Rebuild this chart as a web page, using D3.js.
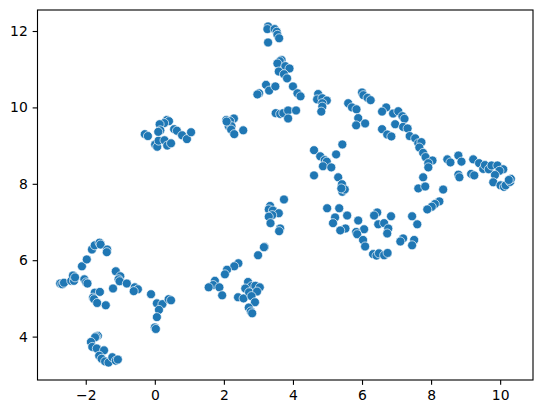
<!DOCTYPE html>
<html><head><meta charset="utf-8">
<script src="https://cdn.jsdelivr.net/npm/d3@7"></script>
<style>html,body{margin:0;padding:0;background:#fff}svg{display:block}
text{font-family:"DejaVu Sans";}</style></head><body>
<div id="c"></div>
<script>
const xTicks=[-2,0,2,4,6,8,10];
const yTicks=[4,6,8,10,12];
const xValues=[-2.74,-2.68,-2.63,-2.42,-2.34,-2.37,-2.31,-2.11,-1.97,-1.82,-1.74,-1.60,-1.57,-1.38,-1.39,-2.04,-1.99,-1.95,-1.74,-1.59,-1.79,-1.76,-1.67,-1.42,-1.21,-1.13,-1.00,-1.05,-1.02,-0.81,-0.58,-0.49,-0.61,-0.11,0.06,0.22,0.12,0.06,0.00,0.03,0.40,0.47,
-1.65,-1.70,-1.73,-1.85,-1.81,-1.68,-1.47,-1.61,-1.54,-1.44,-1.34,-1.23,-1.13,-1.07,
-0.29,-0.20,0.01,0.07,0.11,0.28,0.36,0.47,0.35,0.41,0.27,0.14,0.16,0.10,0.56,0.64,0.79,0.93,1.05,
2.07,2.29,2.18,2.14,2.22,2.21,2.30,2.56,2.08,
3.74,3.34,3.30,3.42,3.59,3.40,3.30,3.35,3.63,3.60,3.18,3.16,2.99,2.42,2.30,2.09,2.03,1.74,1.69,1.56,1.87,1.95,2.41,2.57,2.70,2.80,2.91,3.04,2.62,2.73,2.96,2.80,2.90,2.72,2.78,2.82,
3.28,3.26,3.47,3.53,3.55,3.60,3.28,3.67,3.62,3.55,3.78,3.90,3.59,3.74,3.83,4.00,4.13,4.22,3.22,3.31,3.49,3.02,2.97,3.50,3.63,3.72,3.86,4.09,3.86,4.73,4.70,4.85,4.98,4.85,4.85,4.82,
6.00,6.04,6.16,6.25,5.60,5.71,5.84,5.89,5.83,6.09,6.70,6.58,6.90,7.05,7.17,7.23,6.96,7.19,7.32,6.58,6.73,6.85,7.38,7.54,
5.43,4.61,4.79,5.25,4.92,4.98,4.87,5.11,4.61,5.31,5.42,5.43,5.50,5.40,
7.63,7.72,7.66,7.77,7.84,8.04,7.92,7.92,8.47,8.56,8.79,8.88,8.79,8.82,9.22,9.39,9.51,9.56,9.67,9.75,9.92,10.09,9.98,9.85,9.80,9.16,9.25,10.01,10.11,10.16,10.29,10.31,10.25,7.77,7.63,7.83,8.35,8.24,8.11,8.02,7.89,
4.99,5.34,5.22,5.57,5.16,5.52,5.37,5.89,6.06,5.83,5.86,6.03,6.09,6.44,6.35,6.84,6.47,6.64,6.76,6.73,7.45,7.60,7.19,7.11,7.51,7.45,6.32,6.42,6.49,6.64,6.74];
const yValues=[5.39,5.37,5.41,5.46,5.46,5.60,5.55,5.84,6.02,6.28,6.39,6.46,6.41,6.28,6.21,5.50,5.42,5.39,5.15,5.17,5.02,4.98,4.88,4.82,5.26,5.71,5.58,5.50,5.45,5.39,5.29,5.24,5.19,5.11,4.87,4.85,4.70,4.51,4.24,4.20,4.98,4.95,
4.02,4.00,3.98,3.86,3.73,3.69,3.64,3.50,3.42,3.35,3.32,3.46,3.37,3.40,
9.30,9.25,9.03,8.97,9.13,9.14,9.00,9.06,9.67,9.64,9.59,9.56,9.40,9.36,9.43,9.39,9.27,9.17,9.35,
9.67,9.71,9.64,9.51,9.51,9.42,9.30,9.40,9.63,
7.59,7.42,7.33,7.30,7.23,7.18,7.14,6.97,6.83,6.76,6.35,6.34,6.13,5.92,5.84,5.75,5.63,5.46,5.35,5.29,5.29,5.08,5.03,5.00,5.43,5.32,5.33,5.29,5.26,5.16,5.18,5.06,4.90,4.76,4.66,4.61,
12.12,12.05,12.05,11.98,11.90,11.81,11.70,11.24,11.21,11.15,11.08,11.02,10.94,10.87,10.76,10.55,10.37,10.29,10.59,10.44,10.55,10.37,10.34,9.85,9.83,9.85,9.92,9.92,9.71,10.35,10.21,10.24,10.18,10.11,10.02,9.89,
10.39,10.32,10.25,10.19,10.11,10.00,9.95,9.72,9.53,9.58,10.00,9.89,9.84,9.90,9.77,9.70,9.56,9.49,9.45,9.43,9.29,9.24,9.25,9.19,
9.03,8.88,8.72,8.77,8.62,8.58,8.46,8.43,8.22,8.17,7.99,7.79,7.85,7.88,
9.06,9.09,8.95,8.81,8.70,8.61,8.54,8.43,8.64,8.56,8.74,8.58,8.24,8.17,8.64,8.54,8.39,8.49,8.38,8.48,8.48,8.38,8.34,8.23,8.04,8.26,8.22,7.96,7.92,7.96,8.05,8.13,8.10,8.17,7.88,7.93,7.85,7.54,7.47,7.40,7.33,
7.36,7.36,7.12,7.17,6.97,6.83,6.78,7.04,6.81,6.74,6.68,6.53,6.36,7.25,7.17,7.15,6.94,6.97,6.83,6.70,7.15,6.94,6.57,6.49,6.53,6.39,6.16,6.12,6.18,6.13,6.19];

const W=543,H=413,L=37.5,R=533,T=10,B=380;
const x=d3.scaleLinear().domain([-3.397,10.951]).range([L,R]);
const y=d3.scaleLinear().domain([2.864,12.55]).range([B,T]);
const svg=d3.select("#c").append("svg").attr("width",W).attr("height",H);
svg.append("g").selectAll("circle").data(xValues.map((v,i)=>[v,yValues[i]])).join("circle")
 .attr("cx",d=>x(d[0])).attr("cy",d=>y(d[1])).attr("r",4.5)
 .attr("fill","#1f77b4").attr("stroke","#fff").attr("stroke-width",0.67);
const gx=svg.append("g").attr("transform",`translate(0,${B})`).call(d3.axisBottom(x).tickValues(xTicks).tickSize(4.86).tickPadding(4.9));
const gy=svg.append("g").attr("transform",`translate(${L},0)`).call(d3.axisLeft(y).tickValues(yTicks).tickSize(4.86).tickPadding(4.9));
[gx,gy].forEach(g=>{g.selectAll("text").attr("font-size",13.9).attr("font-family","DejaVu Sans").attr("fill","#000");
 g.selectAll("line").attr("stroke","#000").attr("stroke-width",1.11);
 g.select(".domain").remove();});
const sp=svg.append("g").attr("stroke","#000").attr("stroke-width",1.11).attr("fill","none");
sp.append("rect").attr("x",L).attr("y",T).attr("width",R-L).attr("height",B-T).attr("stroke-linejoin","miter");
</script></body></html>
